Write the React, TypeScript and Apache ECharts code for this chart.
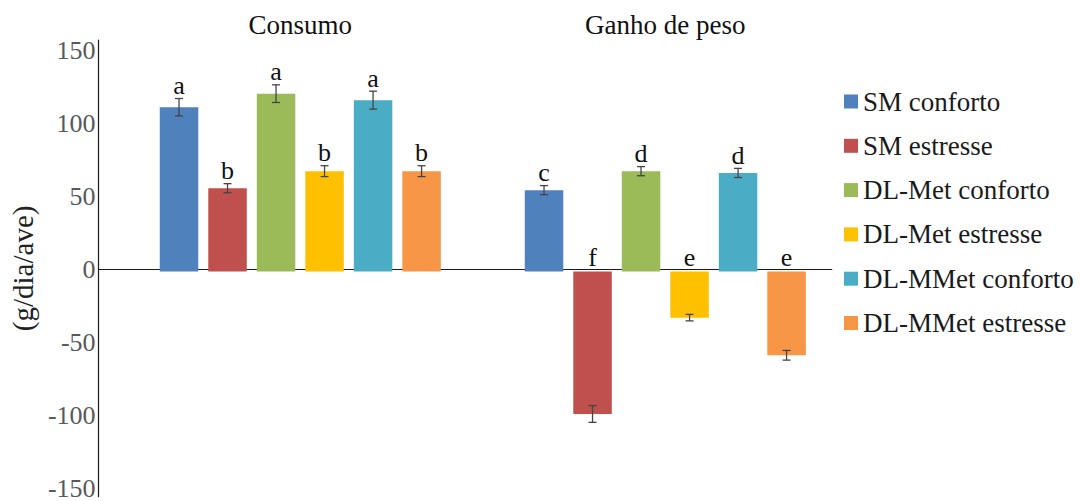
import React, { useEffect, useRef } from 'react';
import * as echarts from 'echarts';

// Groups along the horizontal axis
const categories = ['Consumo', 'Ganho de peso'];

// Treatments (one bar series each)
const seriesNames = [
  'SM conforto',
  'SM estresse',
  'DL-Met conforto',
  'DL-Met estresse',
  'DL-MMet conforto',
  'DL-MMet estresse',
];

// Means (g/dia/ave) per treatment: [Consumo, Ganho de peso]
const smConforto = [111.8, 55.4];
const smEstresse = [56.7, -96.8];
const dlMetConforto = [121.0, 68.3];
const dlMetEstresse = [68.3, -31.3];
const dlMMetConforto = [116.6, 67.1];
const dlMMetEstresse = [68.3, -56.9];

// Standard errors per treatment: [Consumo, Ganho de peso]
const errSmConforto = [5.9, 3.1];
const errSmEstresse = [3.1, 5.7];
const errDlMetConforto = [6.0, 3.1];
const errDlMetEstresse = [3.7, 2.2];
const errDlMMetConforto = [6.1, 3.1];
const errDlMMetEstresse = [3.7, 3.3];

// Significance letters per treatment: [Consumo, Ganho de peso]
const letSmConforto = ['a', 'c'];
const letSmEstresse = ['b', 'f'];
const letDlMetConforto = ['a', 'd'];
const letDlMetEstresse = ['b', 'e'];
const letDlMMetConforto = ['a', 'd'];
const letDlMMetEstresse = ['b', 'e'];

// Y axis tick labels
const yTicks = [-150, -100, -50, 0, 50, 100, 150];

const means = [smConforto, smEstresse, dlMetConforto, dlMetEstresse, dlMMetConforto, dlMMetEstresse];
const errors = [errSmConforto, errSmEstresse, errDlMetConforto, errDlMetEstresse, errDlMMetConforto, errDlMMetEstresse];
const letters = [letSmConforto, letSmEstresse, letDlMetConforto, letDlMetEstresse, letDlMMetConforto, letDlMMetEstresse];

const colors = ['#4F81BD', '#C0504D', '#9BBB59', '#FFC000', '#4BACC6', '#F79646'];
const FONT = 'Liberation Serif';
const BAR_WIDTH = 38.5;
const BAR_GAP = 0.26;
const STEP = BAR_WIDTH * (1 + BAR_GAP);
const Y_MIN = -156;
const Y_MAX = 157.5;

type Point = { s: number; cat: number; mean: number; err: number; letter: string };
const points: Point[] = [];
means.forEach((arr, s) =>
  arr.forEach((mean, cat) =>
    points.push({ s, cat, mean, err: errors[s][cat], letter: letters[s][cat] })
  )
);

export default function App() {
  const ref = useRef<HTMLDivElement>(null);

  useEffect(() => {
    document.body.style.margin = '0';
    const chart = echarts.init(ref.current!, null, { renderer: 'svg' });

    const barSeries = seriesNames.map((name, s) => ({
      name,
      type: 'bar',
      xAxisIndex: 0,
      yAxisIndex: 0,
      data: means[s],
      barWidth: BAR_WIDTH,
      barGap: `${BAR_GAP * 100}%`,
      itemStyle: { color: colors[s] },
      z: 2,
    }));

    // Error bars with the significance letter above each bar (or above the zero line for negative bars)
    const errorSeries = {
      type: 'custom',
      xAxisIndex: 0,
      yAxisIndex: 0,
      z: 5,
      data: points.map((p) => [p.cat, p.mean + p.err, p.mean - p.err]),
      encode: { x: 0, y: [1, 2] },
      renderItem: (params: any, api: any) => {
        const p = points[params.dataIndex];
        const center = api.coord([p.cat, p.mean]);
        const x = center[0] + (p.s - (seriesNames.length - 1) / 2) * STEP;
        const yTop = api.coord([p.cat, p.mean + p.err])[1];
        const yBot = api.coord([p.cat, p.mean - p.err])[1];
        const zeroY = api.coord([p.cat, 0])[1];
        const labelY = p.mean >= 0 ? yTop : zeroY - 1;
        const stroke = { stroke: '#454545', lineWidth: 1.3 };
        const cap = 4;
        return {
          type: 'group',
          children: [
            { type: 'line', shape: { x1: x, y1: yTop, x2: x, y2: yBot }, style: stroke },
            { type: 'line', shape: { x1: x - cap, y1: yTop, x2: x + cap, y2: yTop }, style: stroke },
            { type: 'line', shape: { x1: x - cap, y1: yBot, x2: x + cap, y2: yBot }, style: stroke },
            {
              type: 'text',
              x,
              y: labelY,
              style: {
                text: p.letter,
                fill: '#111',
                fontSize: 26,
                fontFamily: FONT,
                align: 'center',
                verticalAlign: 'bottom',
              },
            },
          ],
        };
      },
    };

    chart.setOption({
      animation: false,
      backgroundColor: '#ffffff',
      textStyle: { fontFamily: FONT },
      grid: [
        { left: 117.8, width: 730, top: 40, bottom: 0, containLabel: false },
        { left: 95, right: 248.3, top: 40, bottom: 0, containLabel: false },
      ],
      legend: {
        data: seriesNames,
        orient: 'vertical',
        left: 839,
        top: 83,
        icon: 'rect',
        itemWidth: 14,
        itemHeight: 14,
        itemGap: 17.3,
        textStyle: { fontSize: 27, lineHeight: 27, color: '#1a1a1a', fontFamily: FONT },
      },
      xAxis: [
        {
          type: 'category',
          gridIndex: 0,
          data: categories,
          position: 'top',
          axisLine: { show: false },
          axisTick: { show: false },
          axisLabel: {
            fontSize: 27,
            lineHeight: 27,
            color: '#111',
            fontFamily: FONT,
            margin: 2,
          },
        },
        {
          type: 'value',
          gridIndex: 1,
          min: 0,
          max: 1,
          axisLine: { show: true, onZero: true, lineStyle: { color: '#1a1a1a', width: 1.2 } },
          axisTick: { show: false },
          axisLabel: { show: false },
          splitLine: { show: false },
        },
      ],
      yAxis: [
        {
          type: 'value',
          gridIndex: 0,
          min: Y_MIN,
          max: Y_MAX,
          show: false,
          splitLine: { show: false },
        },
        {
          type: 'value',
          gridIndex: 1,
          min: Y_MIN,
          max: Y_MAX,
          name: '(g/dia/ave)',
          nameLocation: 'middle',
          nameRotate: 90,
          nameGap: 51,
          nameTextStyle: { fontSize: 29, color: '#222', fontFamily: FONT },
          axisLine: { show: true, lineStyle: { color: '#1a1a1a', width: 1.2 } },
          axisTick: { show: false },
          splitLine: { show: false },
          axisLabel: {
            customValues: yTicks,
            fontSize: 26,
            color: '#595959',
            fontFamily: FONT,
            margin: 3,
          },
        },
      ],
      series: [...barSeries, errorSeries],
    });

    return () => chart.dispose();
  }, []);

  return <div ref={ref} style={{ width: 1080, height: 501 }} />;
}
